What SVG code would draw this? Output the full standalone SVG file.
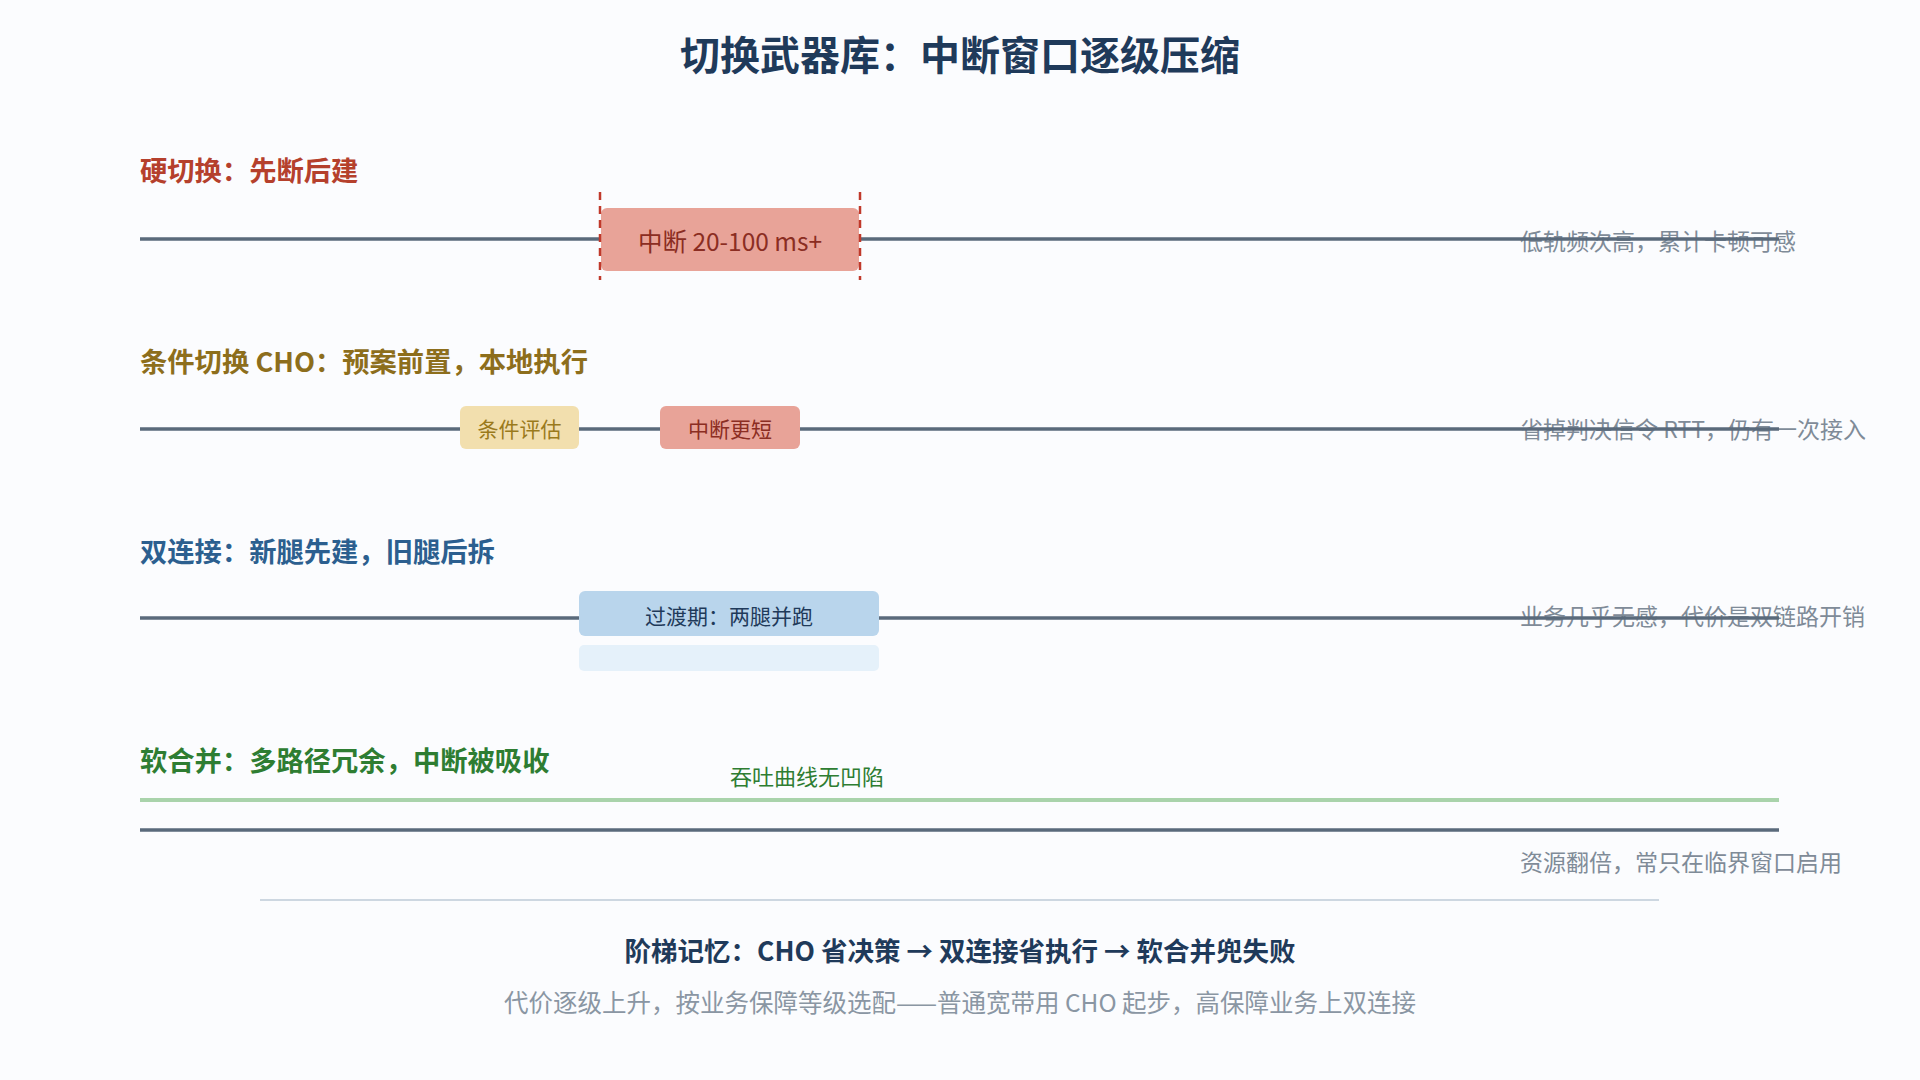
<svg xmlns="http://www.w3.org/2000/svg" width="1920" height="1080" viewBox="0 0 1920 1080">
<style>
text{font-family:"Noto Sans CJK SC","Noto Sans",sans-serif;dominant-baseline:central}
.title{font-size:40px;font-weight:700;fill:#1f3a5a;text-anchor:middle}
.h{font-size:27.3px;font-weight:700}
.note{font-size:23px;fill:#7f8b98}
.box{font-size:21px;text-anchor:middle}
.track{stroke:#5a6a7b;stroke-width:3.5;fill:none}
.dash{stroke:#c0392b;stroke-width:2.5;stroke-dasharray:8 6;fill:none}
</style>
<rect width="1920" height="1080" fill="#fbfcfe"/>
<text class="title" x="960" y="53">切换武器库：中断窗口逐级压缩</text>

<g id="notes">
<text class="note" x="1520" y="240">低轨频次高，累计卡顿可感</text>
<text class="note" x="1520" y="428">省掉判决信令 RTT，仍有一次接入</text>
<text class="note" x="1520" y="615">业务几乎无感，代价是双链路开销</text>
<text class="note" x="1520" y="861">资源翻倍，常只在临界窗口启用</text>
</g>

<g id="connectors">
<line class="track" x1="140" y1="239" x2="1779" y2="239"/>
<line class="track" x1="140" y1="429" x2="1779" y2="429"/>
<line class="track" x1="140" y1="618" x2="1779" y2="618"/>
<line x1="140" y1="800" x2="1779" y2="800" stroke="#a9d3ab" stroke-width="4"/>
<line class="track" x1="140" y1="830" x2="1779" y2="830"/>
</g>

<g id="hard">
<text class="h" x="140" y="169" fill="#b5402c">硬切换：先断后建</text>
<rect x="601" y="208" width="258" height="63" rx="6" fill="#e8a398"/>
<text x="730" y="240" font-size="24.5" text-anchor="middle" fill="#8b2d22">中断 20-100 ms+</text>
<line class="dash" x1="600" y1="192" x2="600" y2="280"/>
<line class="dash" x1="860" y1="192" x2="860" y2="280"/>
</g>

<g id="cho">
<text class="h" x="140" y="360" fill="#8d6e1c">条件切换 CHO：预案前置，本地执行</text>
<rect x="460" y="406" width="119" height="43" rx="6" fill="#f2dfae"/>
<text class="box" x="519.5" y="428" fill="#9a7a1c">条件评估</text>
<rect x="660" y="406" width="140" height="43" rx="6" fill="#e8a398"/>
<text class="box" x="730" y="428" fill="#8b2d22">中断更短</text>
</g>

<g id="dc">
<text class="h" x="140" y="550" fill="#2c5f8f">双连接：新腿先建，旧腿后拆</text>
<rect x="579" y="591" width="300" height="45" rx="6" fill="#b9d5ec"/>
<text class="box" x="729" y="615" fill="#1f3a5a">过渡期：两腿并跑</text>
<rect x="579" y="645" width="300" height="26" rx="5" fill="#e5f1fa"/>
</g>

<g id="soft">
<text class="h" x="140" y="759" fill="#2e7d32">软合并：多路径冗余，中断被吸收</text>
<text x="730" y="775" font-size="22" fill="#2e7d32">吞吐曲线无凹陷</text>
</g>

<line x1="260" y1="900" x2="1659" y2="900" stroke="#cdd7e1" stroke-width="2"/>
<g id="footer">
<text x="960" y="949" font-size="26.5" font-weight="700" text-anchor="middle" fill="#1f3a5a">阶梯记忆：CHO 省决策 → 双连接省执行 → 软合并兜失败</text>
<text x="960" y="1001" font-size="24.5" text-anchor="middle" fill="#8a96a3">代价逐级上升，按业务保障等级选配——普通宽带用 CHO 起步，高保障业务上双连接</text>
</g>
</svg>
